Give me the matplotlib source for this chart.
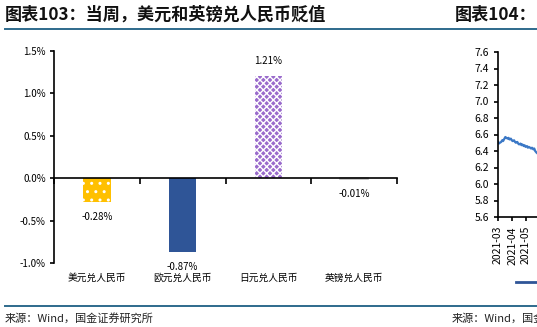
import matplotlib
matplotlib.use('Agg')
import matplotlib.pyplot as plt
import numpy as np
from matplotlib.lines import Line2D

plt.rcParams['font.family'] = ['Noto Sans CJK SC', 'DejaVu Sans']
plt.rcParams['axes.unicode_minus'] = False
plt.rcParams['hatch.linewidth'] = 1.0

# weekly change of CNY against major currencies (%)
pairs = ['美元兑人民币', '欧元兑人民币', '日元兑人民币', '英镑兑人民币']
changes = [-0.28, -0.87, 1.21, -0.01]
bar_colors = ['#FFC000', '#2F5597', '#9A6BCC', '#BFBFBF']
bar_hatches = ['..', None, 'xxxxx', None]
yticks_pct = [-1.0, -0.5, 0.0, 0.5, 1.0, 1.5]

# USD/CNY central rate, 2021 (days counted from 2021-03-01)
usd_days = [0, 2, 4, 7, 9, 11, 14, 16, 18, 21, 23, 25, 28, 30, 32, 35, 37, 39, 42,
            44, 46, 49, 51, 53, 56, 58, 60, 63, 65, 67, 70, 72, 74, 77, 79, 81, 84, 86, 88]
usd_cny = [6.51, 6.49, 6.50, 6.51, 6.53, 6.52, 6.55, 6.57, 6.56, 6.55, 6.56, 6.54,
           6.55, 6.53, 6.52, 6.53, 6.51, 6.50, 6.51, 6.49, 6.48, 6.49, 6.47, 6.48,
           6.46, 6.47, 6.45, 6.46, 6.44, 6.45, 6.44, 6.43, 6.44, 6.42, 6.43, 6.40,
           6.38, 6.37, 6.38]
month_days = [0, 31, 61]
month_labels = ['2021-03', '2021-04', '2021-05']
rate_ticks = [5.6, 5.8, 6.0, 6.2, 6.4, 6.6, 6.8, 7.0, 7.2, 7.4, 7.6]

W, H = 537, 327
fig = plt.figure(figsize=(W / 100, H / 100), dpi=100)
fig.patch.set_facecolor('white')

def fx(px):
    return px / W

def fy(py):
    return 1 - py / H

# page furniture: titles, rules, sources
rule_color = '#2E6A8C'
fig.add_artist(Line2D([fx(5), 1], [fy(28.5), fy(28.5)], color=rule_color, lw=1.4))
fig.add_artist(Line2D([fx(5), 1], [fy(305.5), fy(305.5)], color=rule_color, lw=1.4))
fig.text(fx(5), fy(15), '图表103：当周，美元和英镑兑人民币贬值', fontsize=12.3,
         fontweight='bold', va='center', ha='left', color='#111111')
fig.text(fx(455), fy(15), '图表104：当周美元兑人民币', fontsize=12.3,
         fontweight='bold', va='center', ha='left', color='#111111')
fig.text(fx(5), fy(318), '来源：Wind，国金证券研究所', fontsize=8,
         va='center', ha='left', color='#222222')
fig.text(fx(452), fy(318), '来源：Wind，国金证券研究所', fontsize=8,
         va='center', ha='left', color='#222222')

# left chart: bars
ax = fig.add_axes([fx(54), fy(263), fx(397) - fx(54), fy(51) - fy(263)])
x = np.arange(len(pairs))
bars = ax.bar(x, changes, width=0.32, color=bar_colors, linewidth=0, zorder=2)
for b, h in zip(bars, bar_hatches):
    if h:
        b.set_hatch(h)
        b.set_edgecolor('white')
# the GBP bar is thinner than a pixel, give it a visible outline
bars[3].set_edgecolor(bar_colors[3])
bars[3].set_linewidth(1.2)

for xi, v in zip(x, changes):
    if v >= 0:
        ax.annotate(f'{v:.2f}%', (xi, v), xytext=(0, 7), textcoords='offset points',
                    ha='center', va='bottom', fontsize=7)
    else:
        ax.annotate(f'{v:.2f}%', (xi, v), xytext=(0, -7), textcoords='offset points',
                    ha='center', va='top', fontsize=7)

ax.set_xlim(-0.5, len(pairs) - 0.5)
ax.set_ylim(-1.0, 1.5)
ax.set_yticks(yticks_pct)
ax.set_yticklabels([f'{v:.1f}%' for v in yticks_pct], fontsize=7)
ax.spines['top'].set_visible(False)
ax.spines['right'].set_visible(False)
ax.spines['bottom'].set_position(('data', 0))
for s in ('left', 'bottom'):
    ax.spines[s].set_linewidth(1.2)
ax.set_xticks(np.arange(len(pairs) + 1) - 0.5)
ax.set_xticklabels([])
ax.tick_params(axis='x', direction='out', length=4, width=1.2)
ax.tick_params(axis='y', direction='out', length=3, width=1.2, pad=3)
for xi, name in zip(x, pairs):
    ax.text(xi, -0.068, name, transform=ax.get_xaxis_transform(), ha='center',
            va='center', fontsize=7)

# right chart: USD/CNY line, cut off at the page edge
ax2 = fig.add_axes([fx(498), fy(217), 0.5, fy(52) - fy(217)])
ax2.plot(usd_days, usd_cny, color='#3B78C6', lw=1.6)
ax2.set_ylim(5.6, 7.6)
ax2.set_yticks(rate_ticks)
ax2.set_yticklabels([f'{v:.1f}' for v in rate_ticks], fontsize=7.5)
px_per_day = 14 / 30.5
ax2.set_xlim(0, 0.5 * W / px_per_day)
ax2.set_xticks(month_days)
ax2.set_xticklabels(month_labels, rotation=90, fontsize=7.5)
ax2.spines['top'].set_visible(False)
ax2.spines['right'].set_visible(False)
for s in ('left', 'bottom'):
    ax2.spines[s].set_linewidth(1.2)
ax2.tick_params(direction='out', length=3, width=1.2)
fig.legend([Line2D([], [], color='#2F5597', lw=2)], ['美元兑人民币'],
           loc='center left', bbox_to_anchor=(fx(516), fy(283)), frameon=False,
           fontsize=7.5, handlelength=2.5, borderpad=0, borderaxespad=0)

fig.savefig('out.png', dpi=100)
